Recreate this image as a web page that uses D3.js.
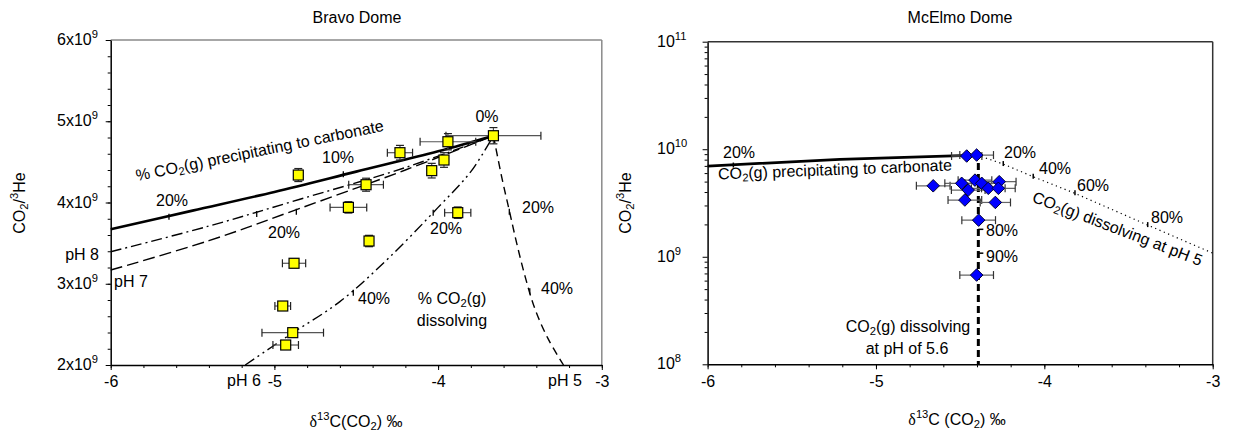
<!DOCTYPE html>
<html><head><meta charset="utf-8">
<script src="https://cdn.jsdelivr.net/npm/d3@7"></script>
<style>
body{margin:0;background:#fff;}
svg{display:block;font-family:"Liberation Sans",Arial,sans-serif;}
</style></head><body>
<svg id="c" width="1233" height="435"></svg>
<script>
// ---------- DATA ----------
// Bravo Dome samples (delta13C permil, CO2/3He x1e9)
const bravoD13C      = [-3.662,-3.94,-4.233,-3.964,-4.039,-4.854,-4.44,-4.548,-3.88,-4.422,-4.88,-4.949,-4.888,-4.931];
const bravoRatio     = [4.822,4.748,4.613,4.523,4.392,4.338,4.219,3.94,3.875,3.526,3.252,2.726,2.398,2.246];
const bravoD13CErr   = [0.29,0.17,0.077,0,0,0,0.106,0.112,0.08,0,0.071,0.048,0.188,0.078];
const bravoRatioErr  = [0.1,0.1,0.09,0.09,0.09,0.08,0.08,0.07,0.07,0.07,0.05,0.05,0.05,0.05];

// Bravo Dome model curves
const precipX = [-6,-5.5,-5.0,-4.5,-4.0,-3.662];
const precipY = [3.67,3.90,4.13,4.38,4.63,4.822];
const pH8X = [-6,-5.4,-4.844,-4.2,-3.662];
const pH8Y = [3.394,3.71,4.04,4.43,4.822];
const pH7X = [-6,-5.4,-4.844,-4.2,-3.662];
const pH7Y = [3.169,3.53,3.928,4.40,4.822];
const pH6X = [-5.178,-4.9,-4.6,-4.3,-4.0,-3.8,-3.662];
const pH6Y = [2.0,2.38,2.78,3.32,3.94,4.38,4.822];
const pH5X = [-3.662,-3.61,-3.565,-3.52,-3.47,-3.41,-3.33,-3.234];
const pH5Y = [4.822,4.30,3.90,3.50,3.10,2.70,2.33,2.0];
// % marks on Bravo curves
const bravoTickX = [-5.644,-4.579,-5.108,-4.866,-4.518,-4.03,-3.565,-3.44];
const bravoTickY = [3.838,4.36,3.87,3.90,2.902,3.887,3.90,2.92];

// McElmo Dome samples
const mcD13C    = [-4.461,-4.402,-4.66,-4.491,-4.412,-4.372,-4.452,-4.333,-4.268,-4.273,-4.472,-4.291,-4.39,-4.402];
const mcRatio   = [8.65e9,8.83e9,4.57e9,4.82e9,5.16e9,4.82e9,4.17e9,4.33e9,4.99e9,4.33e9,3.37e9,3.2e9,2.19e9,6.76e8];
const mcD13CErr = [0.09,0.1,0.1,0.1,0.1,0.1,0.1,0.1,0.1,0.1,0.1,0.09,0.1,0.1];

// McElmo model curves
const mcPrecipX = [-6,-5.214,-4.402];
const mcPrecipY = [6.98e9,8.05e9,8.83e9];
const mcVertX = [-4.392,-4.392];
const mcVertY = [7.45e9,1e8];
const mcDissX = [-4.40,-4.244,-4.066,-3.818,-3.386,-3.0];
const mcDissY = [8.83e9,7.28e9,5.55e9,3.89e9,1.97e9,1.08e9];
const mcTickX = [-5.847,-4.392,-4.392,-4.244,-4.066,-3.818,-3.386];
const mcTickY = [7.05e9,1.8e9,1.08e9,7.28e9,5.55e9,3.89e9,1.97e9];

// axis ticks
const xTicks = [-6,-5,-4,-3];
const bravoYTicks = [2,3,4,5,6];
const mcYTicks = [1e8,1e9,1e10,1e11];

// ---------- HELPERS ----------
const svg = d3.select('#c');
const FS = 16;
function rich(g, x, y, parts, o={}) {
  const t = g.append('text').attr('x', x).attr('y', y)
    .attr('font-size', o.size||FS).attr('fill', '#000')
    .attr('text-anchor', o.anchor||'start')
    .attr('dominant-baseline', 'middle');
  if (o.rotate) t.attr('transform', `rotate(${o.rotate},${x},${y})`);
  let shift = 0;
  parts.forEach(p => {
    if (typeof p === 'string') p = {t:p};
    const s = t.append('tspan').text(p.t);
    let target = 0;
    if (p.sub) { target = 4; s.attr('font-size', (o.size||FS)*0.7); }
    if (p.sup) { target = -6; s.attr('font-size', (o.size||FS)*0.7); }
    if (p.font) s.attr('font-family', p.font);
    if (target !== shift) { s.attr('dy', target - shift); shift = target; }
  });
  return t;
}
function pts(X, Y) { return X.map((v,i)=>[v, Y[i]]); }

// ---------- LEFT PANEL: Bravo Dome ----------
(function(){
  const x = d3.scaleLinear().domain([-6,-3]).range([110.7,601.8]);
  const y = d3.scaleLinear().domain([2,6]).range([365,40]);
  const g = svg.append('g');
  g.append('line').attr('x1',x(-6)).attr('x2',x(-3)).attr('y1',y(6)).attr('y2',y(6)).attr('stroke','#8a8a8a').attr('stroke-width',1.5);
  g.append('line').attr('x1',x(-3)).attr('x2',x(-3)).attr('y1',y(6)).attr('y2',y(2)).attr('stroke','#8a8a8a').attr('stroke-width',1.5);
  const minorX = d3.range(-6,-2.99,0.2).map(v=>+v.toFixed(2));
  g.append('g').attr('transform',`translate(0,${y(2)})`)
    .call(d3.axisBottom(x).tickValues(minorX).tickSize(3).tickFormat(''))
    .call(a=>a.select('.domain').remove());
  g.append('g').attr('transform',`translate(0,${y(2)})`)
    .call(d3.axisBottom(x).tickValues(xTicks).tickSize(5).tickSizeOuter(0).tickFormat(d=>d))
    .call(a=>a.selectAll('text').attr('font-size',FS).attr('font-family','Liberation Sans, Arial').attr('dy','0.9em'))
    .call(a=>a.select('.domain').attr('stroke-width',1.5));
  const minorY = d3.range(2,6.01,0.2).map(v=>+v.toFixed(2));
  g.append('g').attr('transform',`translate(${x(-6)},0)`)
    .call(d3.axisLeft(y).tickValues(minorY).tickSize(3).tickFormat(''))
    .call(a=>a.select('.domain').remove());
  g.append('g').attr('transform',`translate(${x(-6)},0)`)
    .call(d3.axisLeft(y).tickValues(bravoYTicks).tickSize(5).tickSizeOuter(0).tickFormat(''))
    .call(a=>a.select('.domain').attr('stroke-width',1.5));
  bravoYTicks.forEach(v=>rich(g, 98, y(v)+1, [String(v)+'x10',{t:'9',sup:true}], {anchor:'end'}));

  const line = d3.line().x(d=>x(d[0])).y(d=>y(d[1])).curve(d3.curveCatmullRom.alpha(0.5));
  g.append('path').attr('d',line(pts(precipX,precipY))).attr('fill','none').attr('stroke','#000').attr('stroke-width',2.6);
  g.append('path').attr('d',line(pts(pH8X,pH8Y))).attr('fill','none').attr('stroke','#000').attr('stroke-width',1.4).attr('stroke-dasharray','11,4,2,4');
  g.append('path').attr('d',line(pts(pH7X,pH7Y))).attr('fill','none').attr('stroke','#000').attr('stroke-width',1.4).attr('stroke-dasharray','12,5');
  g.append('path').attr('d',line(pts(pH6X,pH6Y))).attr('fill','none').attr('stroke','#000').attr('stroke-width',1.4).attr('stroke-dasharray','11,4,2,4,2,4');
  g.append('path').attr('d',line(pts(pH5X,pH5Y))).attr('fill','none').attr('stroke','#000').attr('stroke-width',1.4).attr('stroke-dasharray','8,5');
  bravoTickX.forEach((v,i)=>{
    g.append('line').attr('x1',x(v)).attr('x2',x(v)).attr('y1',y(bravoTickY[i])-2).attr('y2',y(bravoTickY[i])+4).attr('stroke','#000').attr('stroke-width',1.3);
  });

  const pg = g.append('g');
  bravoD13C.forEach((v,i)=>{
    const cx=x(v), cy=y(bravoRatio[i]);
    const ex=bravoD13CErr[i], ey=bravoRatioErr[i];
    const col='#555';
    if (ex>0){
      pg.append('line').attr('x1',x(v-ex)).attr('x2',x(v+ex)).attr('y1',cy).attr('y2',cy).attr('stroke',col).attr('stroke-width',1.2);
      [v-ex,v+ex].forEach(e=>pg.append('line').attr('x1',x(e)).attr('x2',x(e)).attr('y1',cy-4).attr('y2',cy+4).attr('stroke','#222').attr('stroke-width',1.2));
    }
    if (ey>0){
      pg.append('line').attr('x1',cx).attr('x2',cx).attr('y1',y(bravoRatio[i]-ey)).attr('y2',y(bravoRatio[i]+ey)).attr('stroke',col).attr('stroke-width',1.2);
      [bravoRatio[i]-ey,bravoRatio[i]+ey].forEach(e=>pg.append('line').attr('x1',cx-4).attr('x2',cx+4).attr('y1',y(e)).attr('y2',y(e)).attr('stroke','#222').attr('stroke-width',1.2));
    }
  });
  bravoD13C.forEach((v,i)=>{
    pg.append('rect').attr('x',x(v)-5).attr('y',y(bravoRatio[i])-5).attr('width',10).attr('height',10)
      .attr('fill','#ffff00').attr('stroke','#000').attr('stroke-width',1.2);
  });

  rich(g, 357, 19, ['Bravo Dome'], {anchor:'middle'});
  rich(g, 356, 423, [{t:'δ',font:'Liberation Serif'},{t:'13',sup:true},'C(CO',{t:'2',sub:true},') ‰'], {anchor:'middle'});
  rich(g, 21, 203, ['CO',{t:'2',sub:true},'/',{t:'3',sup:true},'He'], {anchor:'middle', rotate:-90});
  rich(g, 260, 152, ['% CO',{t:'2',sub:true},'(g) precipitating to carbonate'], {anchor:'middle', rotate:-11.5});
  rich(g, 172, 202, ['20%'], {anchor:'middle'});
  rich(g, 338, 159, ['10%'], {anchor:'middle'});
  rich(g, 284, 234, ['20%'], {anchor:'middle'});
  rich(g, 487, 118, ['0%'], {anchor:'middle'});
  rich(g, 446, 230, ['20%'], {anchor:'middle'});
  rich(g, 374, 300, ['40%'], {anchor:'middle'});
  rich(g, 538, 209, ['20%'], {anchor:'middle'});
  rich(g, 557, 290, ['40%'], {anchor:'middle'});
  rich(g, 452, 300, ['% CO',{t:'2',sub:true},'(g)'], {anchor:'middle'});
  rich(g, 452, 322, ['dissolving'], {anchor:'middle'});
  rich(g, 99, 256, ['pH 8'], {anchor:'end'});
  rich(g, 114, 283, ['pH 7'], {anchor:'start'});
  rich(g, 244, 382, ['pH 6'], {anchor:'middle'});
  rich(g, 565, 382, ['pH 5'], {anchor:'middle'});
})();

// ---------- RIGHT PANEL: McElmo Dome ----------
(function(){
  const x = d3.scaleLinear().domain([-6,-3]).range([707.6,1212.7]);
  const y = d3.scaleLog().domain([1e8,1e11]).range([364.3,41.7]);
  const g = svg.append('g');
  g.append('line').attr('x1',x(-6)).attr('x2',x(-3)).attr('y1',y(1e11)).attr('y2',y(1e11)).attr('stroke','#333').attr('stroke-width',1.5);
  g.append('line').attr('x1',x(-3)).attr('x2',x(-3)).attr('y1',y(1e11)).attr('y2',y(1e8)).attr('stroke','#333').attr('stroke-width',1.5);
  const minorX = d3.range(-6,-2.99,0.2).map(v=>+v.toFixed(2));
  g.append('g').attr('transform',`translate(0,${y(1e8)})`)
    .call(d3.axisBottom(x).tickValues(minorX).tickSize(3).tickFormat(''))
    .call(a=>a.select('.domain').remove());
  g.append('g').attr('transform',`translate(0,${y(1e8)})`)
    .call(d3.axisBottom(x).tickValues(xTicks).tickSize(5).tickSizeOuter(0).tickFormat(d=>d))
    .call(a=>a.selectAll('text').attr('font-size',FS).attr('font-family','Liberation Sans, Arial').attr('dy','0.9em'))
    .call(a=>a.select('.domain').attr('stroke-width',1.5));
  const minorY = [];
  [1e8,1e9,1e10].forEach(d=>{ for(let k=2;k<=9;k++) minorY.push(d*k); });
  g.append('g').attr('transform',`translate(${x(-6)},0)`)
    .call(d3.axisLeft(y).tickValues(minorY).tickSize(3).tickFormat(''))
    .call(a=>a.select('.domain').remove());
  g.append('g').attr('transform',`translate(${x(-6)},0)`)
    .call(d3.axisLeft(y).tickValues(mcYTicks).tickSize(5).tickSizeOuter(0).tickFormat(''))
    .call(a=>a.select('.domain').attr('stroke-width',1.5));
  mcYTicks.forEach(v=>rich(g, 657, y(v)+1, ['10',{t:String(Math.round(Math.log10(v))),sup:true}], {anchor:'start'}));

  const line = d3.line().x(d=>x(d[0])).y(d=>y(d[1]));
  g.append('path').attr('d',line(pts(mcPrecipX,mcPrecipY))).attr('fill','none').attr('stroke','#000').attr('stroke-width',2.8);
  g.append('path').attr('d',line(pts(mcVertX,mcVertY))).attr('fill','none').attr('stroke','#000').attr('stroke-width',3).attr('stroke-dasharray','7,4');
  g.append('path').attr('d',line(pts(mcDissX,mcDissY))).attr('fill','none').attr('stroke','#000').attr('stroke-width',1.2).attr('stroke-dasharray','1.2,3.5');
  mcTickX.forEach((v,i)=>{
    const px=x(v), py=y(mcTickY[i]);
    if (i===1||i===2) g.append('line').attr('x1',px).attr('x2',px+5).attr('y1',py).attr('y2',py).attr('stroke','#000').attr('stroke-width',1.5);
    else g.append('line').attr('x1',px).attr('x2',px).attr('y1',py-3).attr('y2',py+2).attr('stroke','#000').attr('stroke-width',1.5);
  });

  const pg = g.append('g');
  mcD13C.forEach((v,i)=>{
    const cy=y(mcRatio[i]), ex=mcD13CErr[i];
    pg.append('line').attr('x1',x(v-ex)).attr('x2',x(v+ex)).attr('y1',cy).attr('y2',cy).attr('stroke','#666').attr('stroke-width',1.2);
    [v-ex,v+ex].forEach(e=>pg.append('line').attr('x1',x(e)).attr('x2',x(e)).attr('y1',cy-4).attr('y2',cy+4).attr('stroke','#333').attr('stroke-width',1.2));
  });
  const sym = d3.symbol().type(d3.symbolDiamond2).size(100);
  mcD13C.forEach((v,i)=>{
    pg.append('path').attr('d',sym()).attr('transform',`translate(${x(v)},${y(mcRatio[i])})`)
      .attr('fill','#0000ff').attr('stroke','#000033').attr('stroke-width',1);
  });

  rich(g, 960, 19, ['McElmo Dome'], {anchor:'middle'});
  rich(g, 957, 421, [{t:'δ',font:'Liberation Serif'},{t:'13',sup:true},'C (CO',{t:'2',sub:true},') ‰'], {anchor:'middle'});
  rich(g, 627, 203, ['CO',{t:'2',sub:true},'/',{t:'3',sup:true},'He'], {anchor:'middle', rotate:-90});
  rich(g, 739, 154, ['20%'], {anchor:'middle'});
  rich(g, 835, 171, ['CO',{t:'2',sub:true},'(g) precipitating to carbonate'], {anchor:'middle', rotate:-2.2});
  rich(g, 1020, 154, ['20%'], {anchor:'middle'});
  rich(g, 1055, 170, ['40%'], {anchor:'middle'});
  rich(g, 1093, 187, ['60%'], {anchor:'middle'});
  rich(g, 1167, 219, ['80%'], {anchor:'middle'});
  rich(g, 1117, 230, ['CO',{t:'2',sub:true},'(g) dissolving at pH 5'], {anchor:'middle', rotate:21});
  rich(g, 986, 232, ['80%'], {anchor:'start'});
  rich(g, 986, 258, ['90%'], {anchor:'start'});
  rich(g, 908, 328, ['CO',{t:'2',sub:true},'(g) dissolving'], {anchor:'middle'});
  rich(g, 907, 350, ['at pH of 5.6'], {anchor:'middle'});
})();
</script>
</body></html>
